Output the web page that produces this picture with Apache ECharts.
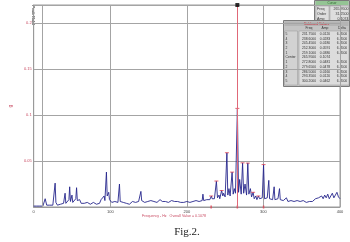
<!DOCTYPE html>
<html><head><meta charset="utf-8">
<script src="https://cdn.jsdelivr.net/npm/echarts@6/dist/echarts.min.js"></script>
<style>html,body{margin:0;padding:0;background:#fff}#c{width:350px;height:242px}</style>
</head><body><div id="c"></div>
<script>
// ---------- data ----------
const xTicks = [0, 100, 200, 300, 400];
const yTicks = [0.05, 0.1, 0.15, 0.2];
const spectrum = [
[0,0.001],[2,0.002],[4,0.001],[6,0.002],[8,0.001],[10,0.002],[12,0.001],[13,0.002],[15,0.009],[17,0.002],
[19,0.001],[21,0.002],[23,0.001],[25,0.002],[27,0.004],[28,0.026],[29,0.005],[31,0.002],[33,0.002],[35,0.003],
[37,0.002],[39,0.004],[41,0.015],[42,0.004],[44,0.005],[46,0.008],[47,0.022],[48,0.006],[50,0.013],[51,0.005],
[53,0.006],[55,0.009],[56,0.021],[57,0.007],[59,0.005],[60,0.008],[62,0.004],[64,0.005],[66,0.004],[68,0.003],
[70,0.005],[72,0.004],[74,0.003],[76,0.004],[78,0.005],[80,0.004],[82,0.003],[84,0.005],[86,0.004],[88,0.008],
[90,0.006],[92,0.012],[93,0.007],[95,0.038],[96,0.012],[98,0.016],[99,0.008],[101,0.010],[102,0.005],[104,0.004],
[106,0.006],[108,0.004],[110,0.005],[112,0.025],[113,0.006],[115,0.004],[117,0.005],[119,0.003],[121,0.004],[123,0.005],
[125,0.003],[127,0.004],[129,0.006],[131,0.004],[133,0.005],[135,0.004],[137,0.006],[139,0.007],[140,0.017],[141,0.007],
[143,0.006],[145,0.005],[147,0.007],[149,0.006],[151,0.005],[153,0.007],[155,0.009],[157,0.006],[159,0.007],[161,0.005],
[163,0.006],[165,0.008],[166,0.010],[168,0.006],[170,0.008],[172,0.006],[174,0.007],[176,0.005],[178,0.006],[180,0.007],
[182,0.005],[184,0.006],[186,0.004],[188,0.006],[190,0.007],[192,0.005],[194,0.006],[196,0.005],[198,0.007],[200,0.006],
[202,0.008],[204,0.005],[206,0.007],[208,0.006],[210,0.008],[212,0.007],[214,0.009],[216,0.006],[218,0.008],[220,0.007],
[221,0.014],[222,0.007],[224,0.009],[226,0.008],[228,0.010],[230,0.008],[232,0.012],[233,0.009],[235,0.011],[236,0.009],
[238.6,0.028],[240,0.010],[242,0.013],[243,0.009],[245.4,0.018],[247,0.012],[248,0.015],[250,0.011],[252.3,0.059],[253.5,0.013],
[255,0.020],[256.5,0.012],[259.1,0.038],[260.5,0.014],[262,0.020],[263.5,0.015],[266,0.107],[267.5,0.016],[269,0.030],[271,0.014],
[272.8,0.048],[274.2,0.015],[276,0.025],[278,0.013],[279.6,0.048],[281,0.014],[283,0.020],[284.5,0.011],[286.5,0.016],[288,0.009],
[290,0.012],[291.5,0.008],[293.4,0.012],[295,0.009],[297,0.008],[298.5,0.010],[300.2,0.046],[301.5,0.009],[303,0.008],[305,0.010],
[307,0.029],[308,0.009],[310,0.007],[312,0.008],[314,0.022],[315,0.008],[317,0.007],[319,0.009],[321,0.020],[322,0.008],
[324,0.006],[326,0.007],[328,0.006],[330,0.010],[332,0.006],[334,0.005],[336,0.007],[338,0.005],[340,0.006],[342,0.005],
[344,0.007],[346,0.005],[348,0.006],[350,0.005],[352,0.007],[354,0.006],[356,0.005],[358,0.007],[360,0.006],[362,0.008],
[364,0.006],[366,0.007],[368,0.009],[370,0.007],[372,0.010],[374,0.008],[376,0.012],[378,0.009],[380,0.013],[382,0.010],
[384,0.014],[386,0.009],[388,0.012],[390,0.015],[392,0.010],[394,0.013],[396,0.016],[398,0.011],[400,0.009]
];
const sbOrders = ['5','4','3','2','1','Center','1','2','3','4','5'];
const sbFreqs  = [231.75, 238.60, 245.45, 252.30, 259.10, 265.95, 272.80, 279.65, 286.50, 293.35, 300.20];
const sbAmps   = [0.0120, 0.0283, 0.0180, 0.0591, 0.0380, 0.1074, 0.0481, 0.0478, 0.0160, 0.0120, 0.0462];
const sbDelta  = ['6.8500','6.8500','6.8500','6.8500','6.8500','','6.8500','6.8500','6.8500','6.8500','6.8500'];
const cursorLabels = ['Freq', 'Order', 'Amp'];
const cursorValues = ['265.9500', '31.2500', '0.1074'];
const cursorFreq = 265.95;
const refLineHz = 11.5;
const xTitle = 'Frequency - Hz   Overall Value = 0.1078';
const yTitle = 'g';
const traceTitle = 'Peak Hold';
const tableTitle = 'Sideband Values';
const cursorTitle = 'Cursor';
const colHeads = ['Freq', 'Amp', 'Delta'];
const figCaption = 'Fig.2.';
const yMax = 0.22;

// ---------- chart ----------
const chart = echarts.init(document.getElementById('c'), null, {renderer: 'canvas'});
const F = 'Liberation Sans';
const g = [];
// cursor box
g.push({type:'rect', shape:{x:314.5,y:0.5,width:35,height:24}, style:{fill:'#c4c4c4', stroke:'#7a7a7a', lineWidth:1}});
g.push({type:'rect', shape:{x:315.5,y:1,width:33,height:4}, style:{fill:'#94c494'}});
g.push({type:'text', style:{text:cursorTitle, x:332, y:3, align:'center', verticalAlign:'middle', font:'3px '+F, fill:'#2c6a2c'}});
g.push({type:'rect', shape:{x:316,y:6,width:13,height:17}, style:{fill:'#dedede', stroke:'#9a9a9a', lineWidth:0.5}});
g.push({type:'rect', shape:{x:330,y:6,width:19,height:17}, style:{fill:'#dedede', stroke:'#9a9a9a', lineWidth:0.5}});
cursorLabels.forEach((t,i)=>{
  g.push({type:'text', style:{text:t, x:317, y:9+i*5, verticalAlign:'middle', font:'3.6px '+F, fill:'#333'}});
  g.push({type:'text', style:{text:cursorValues[i], x:348.5, y:9+i*5, align:'right', verticalAlign:'middle', font:'3.6px '+F, fill:'#333'}});
});
// sideband table
g.push({type:'rect', shape:{x:283.5,y:20.5,width:66,height:66}, style:{fill:'#c4c4c4', stroke:'#7a7a7a', lineWidth:1}});
g.push({type:'rect', shape:{x:284.5,y:21.5,width:64,height:4.5}, style:{fill:'#b4b4b4'}});
g.push({type:'text', style:{text:tableTitle, x:316.5, y:23.8, align:'center', verticalAlign:'middle', font:'3.4px '+F, fill:'#d02030'}});
g.push({type:'rect', shape:{x:284.5,y:31,width:13,height:54}, style:{fill:'#d2d2d2', stroke:'#9a9a9a', lineWidth:0.5}});
g.push({type:'rect', shape:{x:299,y:31,width:50,height:54}, style:{fill:'#dcdcdc', stroke:'#9a9a9a', lineWidth:0.5}});
const colX = [309, 325, 342];
colHeads.forEach((t,i)=>g.push({type:'text', style:{text:t, x:colX[i], y:28.5, align:'center', verticalAlign:'middle', font:'3.4px '+F, fill:'#333'}}));
sbOrders.forEach((t,i)=>{
  const y = 34 + i*4.7;
  g.push({type:'text', style:{text:t, x:285.5, y, verticalAlign:'middle', font:'3.4px '+F, fill:'#333'}});
  g.push({type:'text', style:{text:sbFreqs[i].toFixed(4), x:colX[0], y, align:'center', verticalAlign:'middle', font:'3.4px '+F, fill:'#333'}});
  g.push({type:'text', style:{text:sbAmps[i].toFixed(4), x:colX[1], y, align:'center', verticalAlign:'middle', font:'3.4px '+F, fill:'#333'}});
  g.push({type:'text', style:{text:sbDelta[i], x:colX[2], y, align:'center', verticalAlign:'middle', font:'3.4px '+F, fill:'#333'}});
});
// trace title (rotated)
g.push({type:'text', x:33, y:15, rotation:-Math.PI/2, style:{text:traceTitle, align:'center', verticalAlign:'middle', font:'bold 4px '+F, fill:'#333'}});
// x title and caption
g.push({type:'text', style:{text:xTitle, x:174, y:215.5, align:'center', verticalAlign:'middle', font:'3.6px '+F, fill:'#c84860'}});
g.push({type:'text', style:{text:figCaption, x:187, y:232, align:'center', verticalAlign:'middle', font:'11px "Liberation Serif"', fill:'#222'}});

chart.setOption({
  animation:false,
  backgroundColor:'#fff',
  grid:{left:25, right:10, top:5, bottom:35, show:true, borderColor:'#9a9a9a', borderWidth:1, backgroundColor:'transparent'},
  xAxis:{type:'value', min:xTicks[0], max:xTicks[xTicks.length-1], interval:100,
    axisLine:{lineStyle:{color:'#9a9a9a'}}, axisTick:{show:false},
    axisLabel:{fontSize:4, color:'#444', margin:2.5, fontFamily:F},
    splitLine:{show:true, lineStyle:{color:'#a4a4a4', width:1}}},
  yAxis:{type:'value', min:0, max:yMax, interval:0.05,
    name:yTitle, nameLocation:'middle', nameGap:11, nameRotate:90,
    nameTextStyle:{fontSize:5, color:'#c84860', fontFamily:F},
    axisLine:{lineStyle:{color:'#9a9a9a'}}, axisTick:{show:false},
    axisLabel:{fontSize:4, color:'#c84860', margin:2, fontFamily:F,
      formatter:v=>yTicks.some(t=>Math.abs(t-v)<1e-9)?String(+v.toFixed(2)):''},
    splitLine:{show:true, lineStyle:{color:'#a4a4a4', width:1}}},
  series:[
    {type:'line', data:spectrum, showSymbol:false, symbol:'none', sampling:'none',
     lineStyle:{color:'#26268c', width:0.9}, z:3,
     markLine:{silent:true, symbol:['none','none'], label:{show:false},
       data:[
         [{coord:[refLineHz,0], lineStyle:{color:'#a4a4a4', width:1, type:'solid'}},{coord:[refLineHz,yMax]}],
         [{coord:[cursorFreq,0], lineStyle:{color:'#e06878', width:1, type:'solid'}},{coord:[cursorFreq,yMax]}]
       ]}},
    {type:'scatter', data:sbFreqs.map((f,i)=>[f,sbAmps[i]]), symbol:'rect', symbolSize:[4,1],
     itemStyle:{color:'#e04050'}, z:4, silent:true},
    {type:'scatter', data:[[sbFreqs[0],0],[sbFreqs[5],0],[sbFreqs[10],0]], symbol:'rect', symbolSize:[1.5,3],
     itemStyle:{color:'#e04050'}, z:4, silent:true},
    {type:'scatter', data:[[cursorFreq,yMax]], symbol:'rect', symbolSize:4,
     itemStyle:{color:'#000'}, z:6, silent:true, clip:false}
  ],
  graphic:g
});
</script></body></html>
